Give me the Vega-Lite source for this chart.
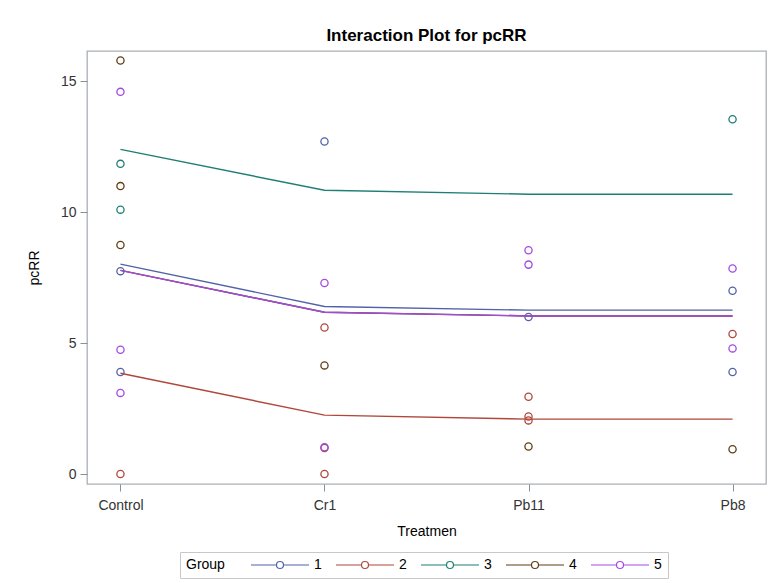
{
  "$schema": "https://vega.github.io/schema/vega-lite/v6.json",
  "autosize": "none",
  "width": 679,
  "height": 433,
  "padding": {"left": 87, "top": 51, "right": 2, "bottom": 99},
  "background": "white",
  "title": {"text": "Interaction Plot for pcRR", "font": "Liberation Sans", "fontSize": 17, "fontWeight": "bold", "color": "#000000", "anchor": "middle", "offset": 6},
  "datasets": {
    "points": [
      {"Treatmen": "Control", "Group": "4", "pcRR": 15.8},
      {"Treatmen": "Control", "Group": "5", "pcRR": 14.6},
      {"Treatmen": "Control", "Group": "3", "pcRR": 11.85},
      {"Treatmen": "Control", "Group": "4", "pcRR": 11.0},
      {"Treatmen": "Control", "Group": "3", "pcRR": 10.1},
      {"Treatmen": "Control", "Group": "4", "pcRR": 8.75},
      {"Treatmen": "Control", "Group": "1", "pcRR": 7.75},
      {"Treatmen": "Control", "Group": "5", "pcRR": 4.75},
      {"Treatmen": "Control", "Group": "1", "pcRR": 3.9},
      {"Treatmen": "Control", "Group": "5", "pcRR": 3.1},
      {"Treatmen": "Control", "Group": "2", "pcRR": 0.0},
      {"Treatmen": "Cr1", "Group": "1", "pcRR": 12.7},
      {"Treatmen": "Cr1", "Group": "5", "pcRR": 7.3},
      {"Treatmen": "Cr1", "Group": "2", "pcRR": 5.6},
      {"Treatmen": "Cr1", "Group": "4", "pcRR": 4.15},
      {"Treatmen": "Cr1", "Group": "2", "pcRR": 1.0},
      {"Treatmen": "Cr1", "Group": "5", "pcRR": 1.02},
      {"Treatmen": "Cr1", "Group": "2", "pcRR": 0.0},
      {"Treatmen": "Pb11", "Group": "5", "pcRR": 8.55},
      {"Treatmen": "Pb11", "Group": "5", "pcRR": 8.0},
      {"Treatmen": "Pb11", "Group": "1", "pcRR": 6.0},
      {"Treatmen": "Pb11", "Group": "2", "pcRR": 2.95},
      {"Treatmen": "Pb11", "Group": "2", "pcRR": 2.2},
      {"Treatmen": "Pb11", "Group": "2", "pcRR": 2.05},
      {"Treatmen": "Pb11", "Group": "4", "pcRR": 1.05},
      {"Treatmen": "Pb8", "Group": "3", "pcRR": 13.55},
      {"Treatmen": "Pb8", "Group": "5", "pcRR": 7.85},
      {"Treatmen": "Pb8", "Group": "1", "pcRR": 7.0},
      {"Treatmen": "Pb8", "Group": "2", "pcRR": 5.35},
      {"Treatmen": "Pb8", "Group": "5", "pcRR": 4.8},
      {"Treatmen": "Pb8", "Group": "1", "pcRR": 3.9},
      {"Treatmen": "Pb8", "Group": "4", "pcRR": 0.95}
    ],
    "means": [
      {"Treatmen": "Control", "Group": "1", "pcRR": 8.02},
      {"Treatmen": "Cr1", "Group": "1", "pcRR": 6.4},
      {"Treatmen": "Pb11", "Group": "1", "pcRR": 6.26},
      {"Treatmen": "Pb8", "Group": "1", "pcRR": 6.26},
      {"Treatmen": "Control", "Group": "2", "pcRR": 3.85},
      {"Treatmen": "Cr1", "Group": "2", "pcRR": 2.25},
      {"Treatmen": "Pb11", "Group": "2", "pcRR": 2.1},
      {"Treatmen": "Pb8", "Group": "2", "pcRR": 2.1},
      {"Treatmen": "Control", "Group": "3", "pcRR": 12.4},
      {"Treatmen": "Cr1", "Group": "3", "pcRR": 10.84},
      {"Treatmen": "Pb11", "Group": "3", "pcRR": 10.69},
      {"Treatmen": "Pb8", "Group": "3", "pcRR": 10.69},
      {"Treatmen": "Control", "Group": "4", "pcRR": 7.78},
      {"Treatmen": "Cr1", "Group": "4", "pcRR": 6.18},
      {"Treatmen": "Pb11", "Group": "4", "pcRR": 6.04},
      {"Treatmen": "Pb8", "Group": "4", "pcRR": 6.04},
      {"Treatmen": "Control", "Group": "5", "pcRR": 7.78},
      {"Treatmen": "Cr1", "Group": "5", "pcRR": 6.18},
      {"Treatmen": "Pb11", "Group": "5", "pcRR": 6.04},
      {"Treatmen": "Pb8", "Group": "5", "pcRR": 6.04}
    ]
  },
  "encoding": {
    "x": {
      "field": "Treatmen", "type": "nominal", "sort": ["Control", "Cr1", "Pb11", "Pb8"],
      "scale": {"type": "point", "padding": 0.164},
      "axis": {"title": "Treatmen", "labelAngle": 0, "tickSize": 7, "labelPadding": 7, "titlePadding": 12}
    },
    "y": {
      "field": "pcRR", "type": "quantitative",
      "scale": {"domain": [-0.38, 16.16], "nice": false, "zero": false},
      "axis": {"title": "pcRR", "values": [0, 5, 10, 15], "tickSize": 7, "labelPadding": 4, "titlePadding": 19}
    },
    "color": {
      "field": "Group", "type": "nominal",
      "scale": {"domain": ["1", "2", "3", "4", "5"], "range": ["#5262a6", "#b0473b", "#1f7f75", "#5f3d14", "#a24ae0"]},
      "legend": {"title": "Group"}
    }
  },
  "layer": [
    {
      "data": {"name": "points"},
      "mark": {"type": "point", "shape": "circle", "filled": false, "size": 52, "strokeWidth": 1.3, "opacity": 1}
    },
    {
      "data": {"name": "means"},
      "mark": {"type": "line", "strokeWidth": 1.4},
      "encoding": {"detail": {"field": "Group", "type": "nominal"}}
    }
  ],
  "config": {
    "font": "Liberation Sans",
    "view": {"stroke": "#aab0b4", "strokeWidth": 1.3},
    "axis": {
      "grid": false, "domain": false, "tickColor": "#8a8f93", "tickWidth": 1,
      "labelFont": "Liberation Sans", "labelFontSize": 14, "labelColor": "#333333",
      "titleFont": "Liberation Sans", "titleFontSize": 14, "titleFontWeight": "normal", "titleColor": "#000000"
    },
    "legend": {
      "orient": "none", "legendX": 93, "legendY": 501,
      "direction": "horizontal", "columns": 5,
      "titleOrient": "left", "titlePadding": 24, "titleBaseline": "middle",
      "titleFont": "Liberation Sans", "titleFontSize": 14, "titleFontWeight": "normal", "titleColor": "#000000",
      "labelFont": "Liberation Sans", "labelFontSize": 14, "labelColor": "#000000",
      "symbolType": "M-1,0H4.1M5.5,0H10.6M5.5,0A0.7,0.7 0 1,1 4.1,0A0.7,0.7 0 1,1 5.5,0",
      "symbolSize": 100, "symbolStrokeWidth": 1.2, "symbolFillColor": "transparent",
      "labelOffset": 51, "columnPadding": 11, "padding": 6,
      "strokeColor": "#c8c8c8"
    }
  }
}
